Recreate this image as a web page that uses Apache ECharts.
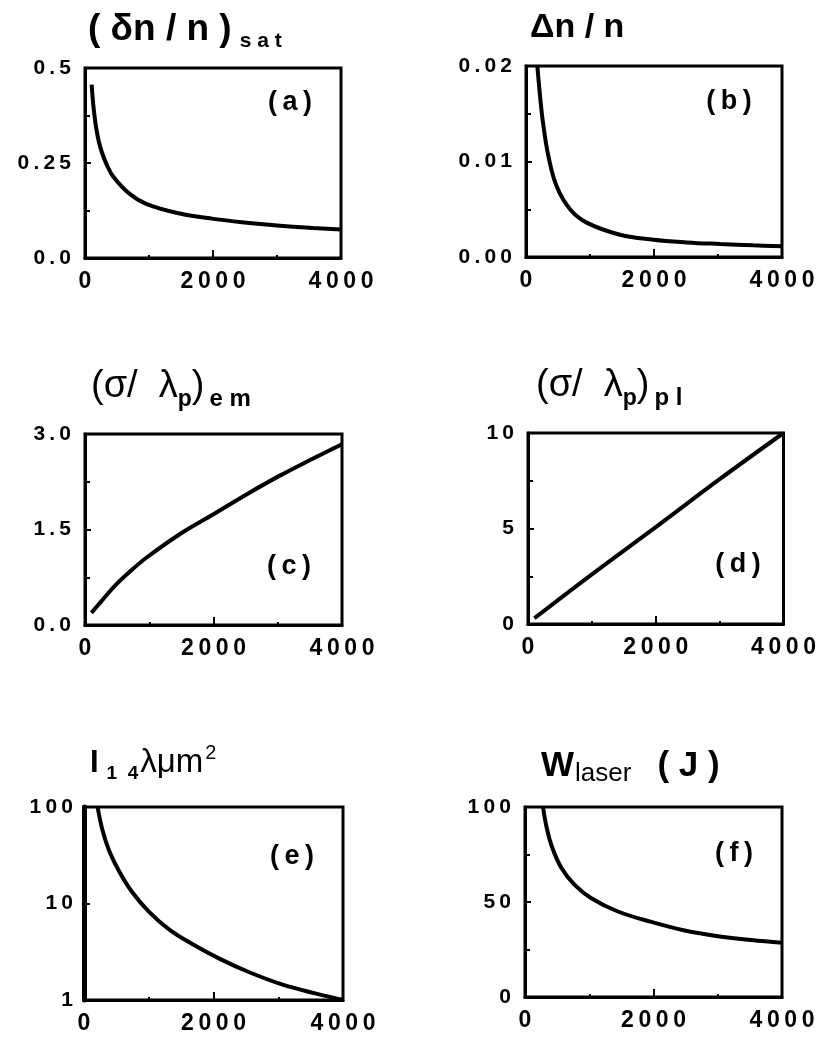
<!DOCTYPE html>
<html>
<head>
<meta charset="utf-8">
<title>panels</title>
<script src="https://cdn.jsdelivr.net/npm/echarts@6/dist/echarts.min.js"></script>
<style>
  html, body { margin: 0; padding: 0; background: #fff; }
  #chart { width: 819px; height: 1037px; }
</style>
</head>
<body>
<div id="chart"></div>
<script>
// values
const xTickLabels = ["0", "2000", "4000"];

const xA = [104, 120, 141, 172, 214, 266, 339, 443, 703, 964, 1484, 2005, 2526, 3047, 3568, 4000];
const yA = [0.456, 0.42, 0.385, 0.345, 0.308, 0.277, 0.246, 0.214, 0.168, 0.142, 0.117, 0.103, 0.093, 0.085, 0.079, 0.075];
const yTicksA = ["0.0", "0.25", "0.5"];

const xB = [177, 229, 271, 349, 479, 688, 948, 1469, 1990, 2510, 3031, 3552, 4000];
const yB = [0.02, 0.0162, 0.0138, 0.0106, 0.0074, 0.005, 0.0036, 0.00233, 0.00181, 0.00153, 0.00136, 0.00122, 0.00112];
const yTicksB = ["0.00", "0.01", "0.02"];

const xC = [100, 240, 450, 700, 960, 1480, 2000, 2520, 3040, 3550, 4000];
const yC = [0.19, 0.355, 0.6, 0.84, 1.06, 1.43, 1.74, 2.055, 2.35, 2.615, 2.84];
const yTicksC = ["0.0", "1.5", "3.0"];

const xD = [100, 1000, 2000, 3000, 4000];
const yD = [0.3, 2.6, 5.07, 7.58, 10];
const yTicksD = ["0", "5", "10"];

const xE = [210, 287, 390, 544, 749, 1005, 1313, 1672, 2082, 2544, 3057, 3569, 4000];
const yE = [100, 57, 35, 21.5, 13, 8.2, 5.4, 3.8, 2.7, 1.95, 1.45, 1.17, 1.0];
const yTicksE = ["1", "10", "100"];

const xF = [280, 332, 410, 565, 773, 1032, 1447, 1966, 2486, 3004, 3522, 4000];
const yF = [100, 90, 80, 68, 59, 52, 45, 39.5, 35, 32, 30, 28.5];
const yTicksF = ["0", "50", "100"];

const FONT = "Liberation Sans, Arial, Helvetica, sans-serif";

function spread(s) {
  return s.split("").join("\u2009");
}

function pairs(xs, ys) {
  return xs.map((x, i) => [x, ys[i]]);
}

// one panel = grid + axes + series
const panels = [
  { box: [85, 68, 256, 190], xs: xA, ys: yA, max: 0.5, step: 0.25, labels: yTicksA },
  { box: [526, 66, 256, 191], xs: xB, ys: yB, max: 0.02, step: 0.01, labels: yTicksB },
  { box: [85, 434, 257, 191], xs: xC, ys: yC, max: 3, step: 1.5, labels: yTicksC },
  { box: [528, 433, 256, 191], xs: xD, ys: yD, max: 10, step: 5, labels: yTicksD },
  { box: [84, 807, 259, 193], xs: xE, ys: yE, log: true, labels: yTicksE },
  { box: [525, 807, 257, 190], xs: xF, ys: yF, max: 100, step: 50, labels: yTicksF },
];

function buildGrid(p) {
  const [left, top, width, height] = p.box;
  return {
    left, top, width, height,
    show: true,
    borderColor: "#000",
    borderWidth: 3,
    backgroundColor: "transparent",
    containLabel: false,
  };
}

function buildXAxis(p, i) {
  return {
    gridIndex: i,
    type: "value",
    min: 0,
    max: 4000,
    interval: 2000,
    axisLine: { show: true, lineStyle: { color: "#000", width: 3 } },
    axisTick: { show: true, inside: true, length: 8, lineStyle: { color: "#000", width: 2 } },
    minorTick: { show: true, splitNumber: 2, length: 3, lineStyle: { color: "#000", width: 2 } },
    splitLine: { show: false },
    axisLabel: {
      margin: 12,
      color: "#000",
      fontFamily: FONT,
      fontWeight: "bold",
      fontSize: 23,
      formatter: (v) => spread(xTickLabels[Math.round(v / 2000)]),
    },
  };
}

function buildYAxis(p, i) {
  const common = {
    gridIndex: i,
    axisLine: { show: true, lineStyle: { color: "#000", width: p.log ? 5 : 3 } },
    axisTick: { show: true, inside: true, length: 6, lineStyle: { color: "#000", width: 2 } },
    splitLine: { show: false },
    axisLabel: {
      margin: 14,
      color: "#000",
      fontFamily: FONT,
      fontWeight: "bold",
      fontSize: 21,
    },
  };
  if (p.log) {
    common.type = "log";
    common.logBase = 10;
    common.min = 1;
    common.max = 100;
    common.axisLabel.margin = 11;
    common.axisLabel.formatter = (v) => spread(p.labels[Math.round(Math.log10(v))]);
  } else {
    common.type = "value";
    common.min = 0;
    common.max = p.max;
    common.interval = p.step;
    common.minorTick = { show: true, splitNumber: 2, length: 5, lineStyle: { color: "#000", width: 2 } };
    common.axisLabel.formatter = (v) => spread(p.labels[Math.round(v / p.step)]);
  }
  return common;
}

function buildSeries(p, i) {
  return {
    type: "line",
    xAxisIndex: i,
    yAxisIndex: i,
    data: pairs(p.xs, p.ys),
    showSymbol: false,
    smooth: 0.4,
    clip: true,
    lineStyle: { color: "#000", width: 4 },
    silent: true,
  };
}

function heading(left, top, text, rich) {
  return { left, top, padding: 0, text, textStyle: { fontWeight: "normal", rich } };
}

function tok(size, weight, lineHeight, extra) {
  return Object.assign(
    { fontFamily: FONT, fontSize: size, fontWeight: weight, color: "#000", lineHeight },
    extra || {},
  );
}

const titles = [
  heading(88, 8, "{m|( δn / n )}{s|s a t}", {
    m: tok(37, "bold", 44),
    s: tok(21, "bold", 22, { verticalAlign: "bottom", padding: [0, 0, 0, 8] }),
  }),
  heading(530, 6, "{m|Δn / n}", {
    m: tok(34, "bold", 44),
  }),
  heading(91, 363, "{m|(σ/  λ}{p|p}{m|)}{s|e m}", {
    m: tok(38, "normal", 48),
    p: tok(23, "bold", 22, { verticalAlign: "bottom" }),
    s: tok(24, "bold", 22, { verticalAlign: "bottom", padding: [0, 0, 0, 5] }),
  }),
  heading(536, 362, "{m|(σ/  λ}{p|p}{m|)}{s|p l}", {
    m: tok(38, "normal", 48),
    p: tok(23, "bold", 22, { verticalAlign: "bottom" }),
    s: tok(24, "bold", 22, { verticalAlign: "bottom", padding: [0, 0, 0, 5] }),
  }),
  heading(90, 743, "{I|I}{s|1  4}{m|λμm}{u|2}", {
    I: tok(31, "bold", 40),
    s: tok(19, "bold", 19, { verticalAlign: "bottom", padding: [0, 2, 0, 8] }),
    m: tok(33, "normal", 40),
    u: tok(20, "normal", 20, { verticalAlign: "top", padding: [0, 0, 0, 2] }),
  }),
  heading(541, 745, "{W|W}{s|laser}{J|( J )}", {
    W: tok(35, "bold", 42),
    s: tok(26, "normal", 22, { verticalAlign: "bottom", padding: [0, 0, 0, 1] }),
    J: tok(35, "bold", 42, { padding: [0, 0, 0, 26] }),
  }),
];

const panelTags = [
  ["(a)", 290, 103],
  ["(b)", 729, 102],
  ["(c)", 289, 567],
  ["(d)", 738, 565],
  ["(e)", 292, 857],
  ["(f)", 734, 854],
];

const option = {
  animation: false,
  backgroundColor: "#fff",
  title: titles,
  grid: panels.map(buildGrid),
  xAxis: panels.map(buildXAxis),
  yAxis: panels.map(buildYAxis),
  series: panels.map(buildSeries),
  graphic: panelTags.map(([text, x, y]) => ({
    type: "text",
    x,
    y,
    silent: true,
    style: {
      text: spread(text),
      fill: "#000",
      font: `bold 27px ${FONT}`,
      align: "center",
      verticalAlign: "middle",
    },
  })),
};

const chart = echarts.init(document.getElementById("chart"), null, { renderer: "canvas" });
chart.setOption(option);
</script>
</body>
</html>
